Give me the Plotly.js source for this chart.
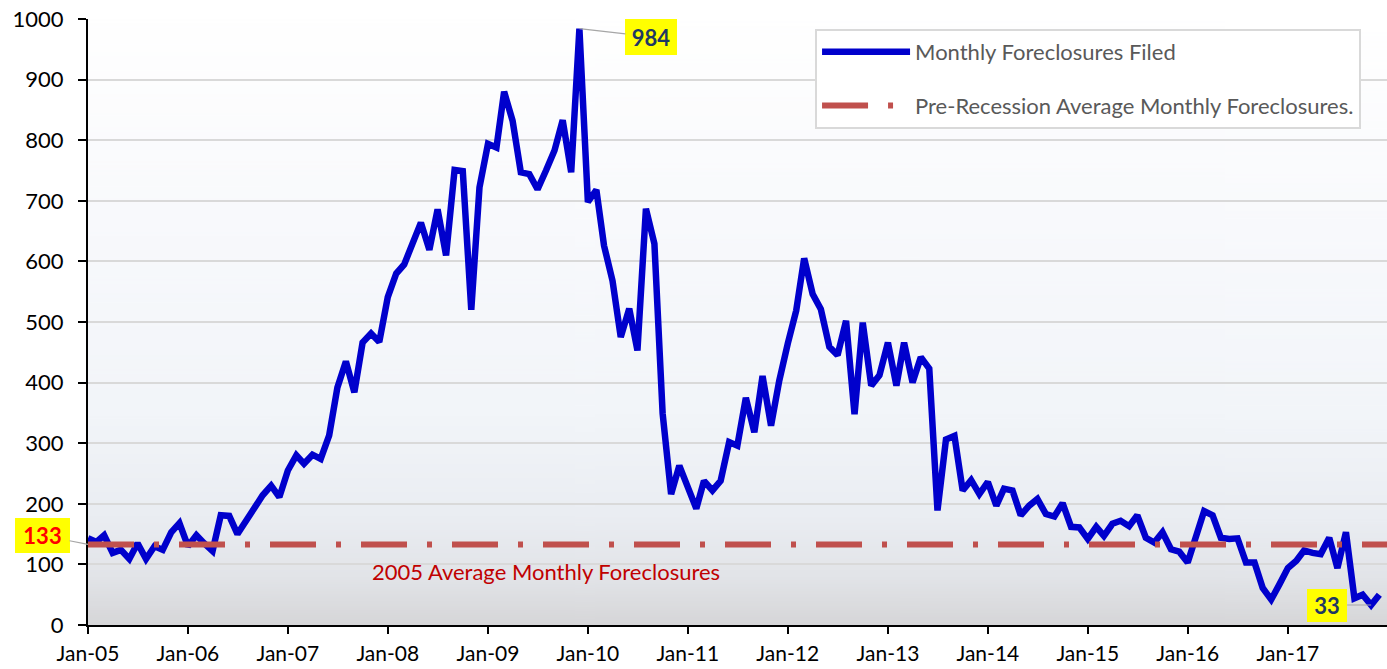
<!DOCTYPE html>
<html>
<head>
<meta charset="utf-8">
<script src="https://cdn.plot.ly/plotly-3.0.1.min.js"></script>
<style>html,body{margin:0;padding:0;background:#ffffff;}</style>
</head>
<body>
<div id="chart" style="width:1387px;height:669px;"></div>
<script>
// ---- Data (monthly foreclosures filed) ----
const years = [2005, 2006, 2007, 2008, 2009, 2010, 2011, 2012, 2013, 2014, 2015, 2016, 2017];
const values2005 = [143, 137, 148, 119, 124, 109, 135, 109, 130, 124, 153, 168];
const values2006 = [130, 148, 135, 122, 181, 180, 150, 172, 193, 214, 230, 211];
const values2007 = [255, 280, 266, 281, 274, 313, 392, 435, 384, 466, 481, 467];
const values2008 = [541, 580, 595, 630, 664, 619, 686, 610, 751, 749, 520, 722];
const values2009 = [794, 788, 880, 832, 747, 744, 719, 750, 783, 833, 747, 984];
const values2010 = [698, 718, 626, 568, 475, 522, 453, 687, 629, 349, 216, 263];
const values2011 = [230, 192, 238, 222, 238, 302, 296, 375, 318, 411, 329, 403];
const values2012 = [464, 519, 605, 546, 521, 459, 445, 502, 348, 499, 395, 412];
const values2013 = [466, 395, 466, 400, 442, 423, 189, 306, 312, 222, 239, 216];
const values2014 = [236, 197, 225, 222, 181, 197, 208, 183, 179, 201, 162, 161];
const values2015 = [142, 162, 147, 167, 172, 163, 181, 144, 136, 153, 125, 121];
const values2016 = [103, 144, 188, 181, 144, 142, 143, 103, 103, 61, 42, 67];
const values2017 = [94, 106, 123, 119, 117, 144, 94, 153, 44, 50, 33, 50];
const yearValues = [values2005, values2006, values2007, values2008, values2009, values2010,
  values2011, values2012, values2013, values2014, values2015, values2016, values2017];

const avgDates = ['2005-01-01', '2017-12-31'];
const avgValues = [133, 133];

const peakDate = '2009-12-01', peakValue = 984;
const lowDate = '2017-11-01', lowValue = 33;
const avgLabel = 133;

const seriesNames = ['Monthly Foreclosures Filed', 'Pre-Recession Average Monthly Foreclosures.'];

// build monthly date list
const dates = [], values = [];
years.forEach((yr, yi) => {
  yearValues[yi].forEach((v, mi) => {
    dates.push(yr + '-' + String(mi + 1).padStart(2, '0') + '-01');
    values.push(v);
  });
});

// background gradient for plot area
function gradientURL() {
  const c = document.createElement('canvas');
  c.width = 4; c.height = 512;
  const ctx = c.getContext('2d');
  const g = ctx.createLinearGradient(0, 0, 0, 512);
  g.addColorStop(0.0, '#ffffff');
  g.addColorStop(0.35, '#f8f9fc');
  g.addColorStop(0.65, '#f2f5f9');
  g.addColorStop(0.82, '#eaedf2');
  g.addColorStop(0.92, '#e2e4e8');
  g.addColorStop(1.0, '#d6d6d8');
  ctx.fillStyle = g;
  ctx.fillRect(0, 0, 4, 512);
  return c.toDataURL('image/png');
}

const traces = [
  {
    x: dates, y: values, type: 'scatter', mode: 'lines',
    name: seriesNames[0], legendgroup: 'a',
    line: {color: '#0000cc', width: 6.5},
    hoverinfo: 'x+y'
  },
  {
    x: avgDates, y: avgValues, type: 'scatter', mode: 'lines',
    name: seriesNames[1], legendgroup: 'b',
    line: {color: '#c0504d', width: 6, dash: '46px,20px,5px,20px'},
    hoverinfo: 'y'
  }
];

const layout = {
  width: 1387, height: 669,
  margin: {l: 88, r: 0, t: 19, b: 44, pad: 0},
  paper_bgcolor: '#ffffff',
  plot_bgcolor: 'rgba(0,0,0,0)',
  font: {family: 'Lato, sans-serif', color: '#000000'},
  showlegend: true,
  legend: {
    x: 0.5597, y: 0.9835, xanchor: 'left', yanchor: 'top',
    bgcolor: '#ffffff', bordercolor: '#d9d9d9', borderwidth: 2,
    font: {family: 'Lato, sans-serif', size: 22, color: '#595959'},
    tracegroupgap: 22, itemwidth: 88
  },
  xaxis: {
    type: 'date',
    range: ['2005-01-01', '2017-12-29'],
    tickformat: '%b-%y', dtick: 'M12', tick0: '2005-01-01',
    ticks: 'outside', ticklen: 7, tickwidth: 2, tickcolor: '#000000',
    showline: true, linecolor: '#000000', linewidth: 2,
    showgrid: false, zeroline: false,
    tickfont: {family: 'Lato, sans-serif', size: 21, color: '#000000'},
    ticklabelstandoff: 2
  },
  yaxis: {
    range: [0, 1000], dtick: 100, tick0: 0,
    ticks: 'outside', ticklen: 8, tickwidth: 2, tickcolor: '#000000',
    showline: true, linecolor: '#000000', linewidth: 2,
    showgrid: true, gridcolor: '#d9d9d9', gridwidth: 2,
    zeroline: false,
    tickfont: {family: 'Lato, sans-serif', size: 22, color: '#000000'},
    ticklabelstandoff: 10
  },
  images: [{
    source: gradientURL(), xref: 'paper', yref: 'paper',
    x: 0, y: 1, sizex: 1, sizey: 1, xanchor: 'left', yanchor: 'top',
    sizing: 'stretch', layer: 'below'
  }],
  annotations: [
    {
      x: peakDate, y: peakValue, xref: 'x', yref: 'y',
      text: '<b>' + peakValue + '</b>', showarrow: true, arrowhead: 0,
      arrowcolor: '#a6a6a6', arrowwidth: 1.2, ax: 72, ay: 8,
      bgcolor: '#ffff00', borderwidth: 0, borderpad: 0, width: 52, height: 36,
      font: {family: 'Lato, sans-serif', size: 22, color: '#1f3864'}
    },
    {
      x: dates[0], y: avgLabel, xref: 'x', yref: 'y',
      text: '<b>' + avgLabel + '</b>', showarrow: true, arrowhead: 0,
      arrowcolor: '#a6a6a6', arrowwidth: 1.2, ax: -46, ay: -9,
      bgcolor: '#ffff00', borderwidth: 0, borderpad: 0, width: 55, height: 35,
      font: {family: 'Lato, sans-serif', size: 22, color: '#ff0000'}
    },
    {
      x: lowDate, y: lowValue, xref: 'x', yref: 'y',
      text: '<b>' + lowValue + '</b>', showarrow: true, arrowhead: 0,
      arrowcolor: '#a6a6a6', arrowwidth: 1.2, ax: -44, ay: 0,
      bgcolor: '#ffff00', borderwidth: 0, borderpad: 0, width: 40, height: 33,
      font: {family: 'Lato, sans-serif', size: 22, color: '#1f3864'}
    },
    {
      x: 0.3526, y: 88, xref: 'paper', yref: 'y',
      text: '2005 Average Monthly Foreclosures', showarrow: false,
      font: {family: 'Lato, sans-serif', size: 22, color: '#c00000'}
    }
  ]
};

Plotly.newPlot('chart', traces, layout, {displayModeBar: false, responsive: false});
</script>
</body>
</html>
